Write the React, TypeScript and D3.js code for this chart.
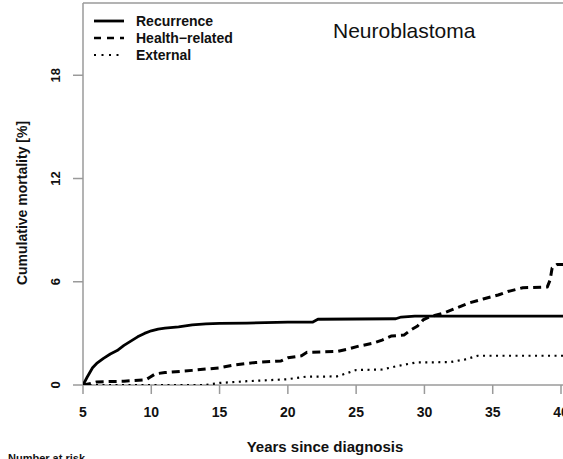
import React from "react";
import * as d3 from "d3";

const years_rec = [5, 5.3, 5.7, 6.0, 6.5, 7.0, 7.5, 8.0, 8.5, 9.0, 9.5, 10.0, 10.5, 11, 12, 13, 14, 15, 17, 20, 21.8, 22.2, 27.9, 28.3, 29.3, 40.3];
const vals_rec = [0, 0.45, 1.0, 1.25, 1.55, 1.8, 2.0, 2.3, 2.55, 2.8, 3.0, 3.15, 3.25, 3.3, 3.38, 3.5, 3.55, 3.58, 3.6, 3.65, 3.65, 3.82, 3.85, 3.95, 4.0, 4.0];

const years_hr = [5, 5.6, 6, 8, 9.6, 9.9, 10.3, 11, 13, 15, 16, 17.5, 19.5, 20, 21, 21.4, 23.6, 24.3, 25.2, 26.2, 26.9, 27.6, 28.5, 29, 29.5, 29.9, 30.4, 31.4, 32.3, 33.2, 34.3, 35.4, 36.1, 37.2, 39.0, 39.2, 39.35, 39.7, 40.3];
const vals_hr = [0, 0.1, 0.18, 0.22, 0.3, 0.45, 0.65, 0.72, 0.85, 1.0, 1.15, 1.3, 1.4, 1.58, 1.7, 1.9, 1.95, 2.07, 2.26, 2.42, 2.61, 2.85, 2.9, 3.2, 3.43, 3.78, 3.97, 4.17, 4.46, 4.75, 5.0, 5.23, 5.43, 5.65, 5.7, 6.1, 6.8, 7.0, 7.0];

const years_ext = [5, 14, 15, 17, 19.9, 21.3, 23.6, 24.3, 25, 26.9, 28, 29.4, 31.9, 33, 33.9, 40.3];
const vals_ext = [0, 0, 0.12, 0.22, 0.33, 0.48, 0.5, 0.68, 0.87, 0.9, 1.1, 1.31, 1.33, 1.49, 1.7, 1.7];

const xTicks = [5, 10, 15, 20, 25, 30, 35, 40];
const yTicks = [0, 6, 12, 18];
const legendLabels = ["Recurrence", "Health\u2212related", "External"];
const dashes = ["none", "8,5", "2,4.5"];

const FONT = "'Liberation Sans', Arial, sans-serif";

export default function App() {
  const W = 563, H = 459;
  const x = d3.scaleLinear().domain([5, 40]).range([83, 561]);
  const y = d3.scaleLinear().domain([0, 22.2]).range([385, 3]);
  const line = d3.line<[number, number]>().x(d => x(d[0])).y(d => y(d[1]));
  const series = [
    { xs: years_rec, ys: vals_rec, w: 2.8 },
    { xs: years_hr, ys: vals_hr, w: 3 },
    { xs: years_ext, ys: vals_ext, w: 2.2 },
  ];
  const axisColor = "#9a9a9a";
  return (
    <svg width={W} height={H} style={{ position: "absolute", left: 0, top: 0, background: "#fff" }} fontFamily={FONT}>
      <defs>
        <clipPath id="plotclip">
          <rect x={83} y={3} width={W} height={382} />
        </clipPath>
      </defs>
      <line x1={83} x2={W} y1={3} y2={3} stroke={axisColor} strokeWidth={1.5} />
      <line x1={83} x2={83} y1={3} y2={385} stroke={axisColor} strokeWidth={1.5} />
      <line x1={83} x2={W} y1={385} y2={385} stroke={axisColor} strokeWidth={1.5} />
      {xTicks.map(t => (
        <g key={t}>
          <line x1={x(t)} x2={x(t)} y1={385} y2={394} stroke={axisColor} strokeWidth={1.5} />
          <text x={x(t)} y={417} textAnchor="middle" fontSize={14} fontWeight="bold" fill="#111">{t}</text>
        </g>
      ))}
      {yTicks.map(t => (
        <g key={t}>
          <line x1={73} x2={83} y1={y(t)} y2={y(t)} stroke={axisColor} strokeWidth={1.5} />
          <text transform={`translate(60,${y(t)}) rotate(-90)`} textAnchor="middle" fontSize={13} fontWeight="bold" fill="#111">{t}</text>
        </g>
      ))}
      <text transform={`translate(27,203) rotate(-90)`} textAnchor="middle" fontSize={14} fontWeight="bold" fill="#111">Cumulative mortality [%]</text>
      <text x={325} y={452} textAnchor="middle" fontSize={15} fontWeight="bold" fill="#111">Years since diagnosis</text>
      <text x={8} y={462} fontSize={11} fontWeight="bold" fill="#111">Number at risk</text>
      <g clipPath="url(#plotclip)">
        {series.map((s, i) => (
          <path key={i} d={line(s.xs.map((v, j) => [v, s.ys[j]] as [number, number])) || ""} fill="none" stroke="#000" strokeWidth={s.w} strokeDasharray={dashes[i]} strokeLinejoin="round" />
        ))}
      </g>
      {legendLabels.map((l, i) => (
        <g key={l}>
          <line x1={94} x2={124} y1={21 + i * 17} y2={21 + i * 17} stroke="#000" strokeWidth={i === 0 ? 2.8 : i === 1 ? 2.5 : 2} strokeDasharray={i === 0 ? "none" : i === 1 ? "7,6" : "2,5.5"} />
          <text x={136} y={26 + i * 17} fontSize={14} fontWeight="bold" fill="#111">{l}</text>
        </g>
      ))}
      <text x={333} y={38} fontSize={21} fill="#111">Neuroblastoma</text>
    </svg>
  );
}
